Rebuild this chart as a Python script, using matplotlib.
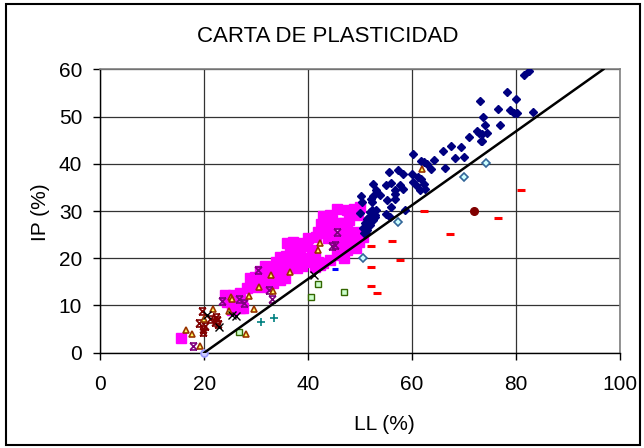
import numpy as np
import matplotlib.pyplot as plt
from matplotlib.path import Path
from matplotlib.patches import Rectangle

plt.rcParams['font.family'] = ['Liberation Sans', 'DejaVu Sans']

# Limite liquido / indice de plasticidad por grupo de muestras
ll_cl = [45.5, 47.4, 48.8, 50.0, 49.5, 44.2, 42.9, 44.5, 45.7, 46.8, 47.9, 42.4, 43.6, 41.9,
         42.9, 44.4, 47.4, 49.0, 46.9, 48.4, 49.6, 50.6, 41.6, 43.8, 45.2, 46.1, 47.4, 48.7,
         49.8, 49.2, 47.4, 46.1, 45.5, 46.8, 40.0, 38.8, 37.1, 36.0, 36.5, 37.8, 38.4, 39.7,
         40.7, 41.3, 41.9, 42.9, 44.2, 34.6, 35.7, 36.8, 38.1, 39.4, 40.3, 41.3, 42.3, 34.9,
         33.8, 31.7, 32.5, 33.6, 34.6, 35.5, 36.5, 37.8, 38.8, 30.7, 29.8, 31.7, 33.9, 34.6,
         35.5, 28.8, 30.1, 32.0, 31.1, 29.1, 33.3, 28.2, 26.9, 25.6, 24.3, 26.2, 27.2, 24.0,
         25.9, 27.5, 15.5, 24.3, 25.3, 26.9]
ip_cl = [30.4, 30.2, 30.4, 30.8, 29.2, 29.2, 29.0, 28.1, 27.4, 27.5, 28.0, 27.3, 26.8, 25.6,
         25.3, 26.0, 26.0, 25.6, 25.3, 24.7, 25.1, 24.6, 24.6, 24.2, 24.0, 23.5, 23.9, 23.3,
         23.5, 22.1, 21.8, 22.5, 20.7, 20.0, 24.2, 23.2, 23.5, 23.2, 21.6, 22.1, 21.1, 22.5,
         21.8, 20.3, 19.3, 18.9, 19.6, 20.3, 20.5, 20.3, 20.0, 20.0, 19.3, 18.2, 18.6, 19.6,
         19.3, 18.4, 17.9, 18.2, 17.5, 17.2, 18.2, 17.9, 18.4, 17.2, 16.1, 16.1, 16.5, 15.4,
         15.8, 15.8, 15.0, 15.0, 14.0, 13.9, 14.7, 13.6, 12.6, 12.2, 11.9, 11.2, 10.5, 12.2,
         9.9, 9.4, 3.2, 10.8, 9.0, 9.4]

ll_ch = [60.2, 61.8, 62.3, 62.9, 64.3, 66.0, 67.5, 69.5, 68.3, 70.0, 73.4, 63.6, 66.3, 55.5,
         57.2, 58.3, 60.0, 61.2, 61.8, 60.2, 60.7, 62.3, 61.5, 62.5, 52.4, 55.9, 54.9, 57.7,
         58.2, 56.7, 56.7, 53.0, 50.2, 52.4, 52.1, 53.8, 50.4, 55.1, 56.8, 55.9, 52.2, 53.0,
         51.9, 55.0, 55.7, 58.6, 51.3, 51.9, 50.9, 52.5, 50.6, 51.4, 50.8, 50.0, 52.9,
         82.5, 81.5, 78.3, 80.0, 73.1, 76.5, 78.8, 79.6, 80.1, 83.2, 73.6, 74.0, 76.9, 72.5,
         72.9, 73.5, 74.5, 73.3, 70.9, 52.2, 52.5, 51.6, 51.9, 51.3, 51.1, 52.9]
ip_ch = [42.1, 40.5, 40.3, 40.0, 40.8, 42.7, 43.8, 43.6, 41.3, 41.4, 44.8, 38.9, 39.2, 38.3,
         38.6, 37.8, 37.8, 37.1, 36.7, 36.2, 35.5, 35.7, 34.5, 34.6, 35.7, 35.9, 35.5, 35.5,
         34.6, 34.5, 33.6, 34.5, 33.1, 33.1, 32.6, 33.4, 31.9, 32.4, 32.5, 30.9, 30.2, 30.2,
         29.7, 29.4, 28.7, 30.2, 28.3, 28.5, 27.4, 28.1, 26.4, 26.6, 25.3, 29.5, 29.2,
         59.7, 58.7, 55.2, 53.7, 53.2, 51.6, 51.4, 50.7, 50.7, 50.9, 50.0, 48.2, 48.2, 47.0,
         46.6, 46.3, 46.5, 44.9, 45.6, 32.0, 29.5, 28.5, 27.1, 26.0, 25.3, 28.8]

ll_tri = [16.5, 17.6, 19.2, 20.0, 21.7, 24.7, 25.1, 25.3, 28.6, 29.5, 30.5, 33.3, 28.0, 32.9,
          36.5, 41.9, 42.3, 61.9]
ip_tri = [4.9, 4.0, 1.5, 7.1, 9.3, 8.9, 11.7, 11.4, 12.0, 9.2, 13.9, 13.1, 4.0, 16.5,
          17.0, 21.8, 23.3, 38.9]

ll_pur = [17.9, 23.5, 26.6, 27.6, 30.4, 32.5, 33.0, 44.6, 45.2, 45.6]
ip_pur = [1.5, 11.0, 11.4, 10.5, 17.5, 13.3, 11.3, 22.5, 22.7, 25.6]

ll_mar = [19.5, 19.0, 19.7, 19.8, 21.1, 22.3, 22.0, 22.7, 22.5, 20.2]
ip_mar = [8.8, 6.2, 5.0, 4.4, 7.1, 7.5, 6.5, 6.0, 7.0, 5.6]

ll_x = [20.5, 22.9, 25.3, 26.2, 41.1]
ip_x = [8.0, 5.4, 8.0, 7.8, 16.5]

ll_sq = [26.7, 40.5, 41.9, 46.8]
ip_sq = [4.4, 11.7, 14.6, 12.9]

ll_plus = [30.9, 33.5]
ip_plus = [6.6, 7.3]

ll_dia = [50.5, 57.2, 70.0, 74.2]
ip_dia = [20.1, 27.7, 37.1, 40.1]

ll_red = [52.0, 56.1, 52.0, 57.7, 52.0, 53.3, 62.3, 67.2, 76.5, 81.0]
ip_red = [22.5, 23.7, 18.2, 19.7, 14.1, 12.6, 29.9, 25.1, 28.6, 34.5]

ll_blue = [45.2]
ip_blue = [17.8]

ll_dot = [72.0]
ip_dot = [30.1]

ll_orig = [20.0]
ip_orig = [0.0]

# linea A
ll_linea = [20, 96.8]
ip_linea = [0, 60]

# marcador tipo estrella (X con barras)
star = Path([(-1, -1), (1, 1), (-1, 1), (1, -1), (-1, 1), (1, 1), (-1, -1), (1, -1)],
            [Path.MOVETO, Path.LINETO, Path.MOVETO, Path.LINETO,
             Path.MOVETO, Path.LINETO, Path.MOVETO, Path.LINETO])

fig = plt.figure(figsize=(6.44, 4.48), dpi=100)
ax = fig.add_axes([100.3 / 644, 1 - 352.7 / 448, 519.7 / 644, 283.4 / 448])

ax.plot(ll_cl, ip_cl, 's', ms=6.5, color='#FF00FF', mec='#FF00FF', zorder=3)
ax.plot(ll_ch, ip_ch, 'D', ms=4.5, color='#000080', mec='#000080', zorder=4)
ax.plot(ll_pur, ip_pur, ls='none', marker=star, ms=5, mfc='none', mec='#800080', mew=1.2, zorder=5)
ax.plot(ll_mar, ip_mar, ls='none', marker=star, ms=5, mfc='none', mec='#800000', mew=1.2, zorder=5)
ax.plot(ll_tri, ip_tri, '^', ms=5, mfc='#FFFF66', mec='#993300', mew=1.2, zorder=5)
ax.plot(ll_x, ip_x, 'x', ms=5.5, color='black', mew=1.0, zorder=5)
ax.plot(ll_sq, ip_sq, 's', ms=5, mfc='#CCFFCC', mec='#336600', mew=1.0, zorder=5)
ax.plot(ll_plus, ip_plus, '+', ms=6, color='#008080', mew=1.2, zorder=5)
ax.plot(ll_dia, ip_dia, 'D', ms=4, mfc='#CCFFFF', mec='#336699', mew=1.2, zorder=5)
ax.plot(ll_red, ip_red, '_', ms=6, color='#FF0000', mew=2.2, zorder=5)
ax.plot(ll_blue, ip_blue, '_', ms=5, color='#0000FF', mew=2.2, zorder=5)
ax.plot(ll_dot, ip_dot, 'o', ms=5.5, color='#800000', zorder=5)
ax.plot(ll_orig, ip_orig, 'o', ms=5, mfc='#CCCCFF', mec='#9999FF', mew=1.2, zorder=6, clip_on=False)
ax.plot(ll_linea, ip_linea, '-', color='black', lw=1.8, zorder=6)

ax.set_xlim(0, 100)
ax.set_ylim(0, 60)
ax.set_xticks(np.arange(0, 101, 20))
ax.set_yticks(np.arange(0, 61, 10))
ax.grid(True, color='#333333', lw=0.9)
ax.set_axisbelow(True)
for s in ['top', 'right']:
    ax.spines[s].set_color('#808080')
    ax.spines[s].set_linewidth(1.2)
for s in ['left', 'bottom']:
    ax.spines[s].set_color('black')
    ax.spines[s].set_linewidth(1.0)
ax.tick_params(direction='out', length=5, width=1, labelsize=15)
ax.tick_params(axis='x', pad=11)
ax.tick_params(axis='y', pad=8)

fig.text(328 / 644, 1 - 36 / 448, 'CARTA DE PLASTICIDAD', ha='center', va='center', fontsize=16)
fig.text(384 / 644, 1 - 424 / 448, 'LL (%)', ha='center', va='center', fontsize=15)
fig.text(40 / 644, 1 - 212 / 448, 'IP (%)', ha='center', va='center', rotation=90, fontsize=15)

fig.patches.append(Rectangle((6 / 644, 3 / 448), 634 / 644, 441 / 448, transform=fig.transFigure,
                             fill=False, ec='black', lw=1.5))

fig.savefig('out.png', dpi=100)
